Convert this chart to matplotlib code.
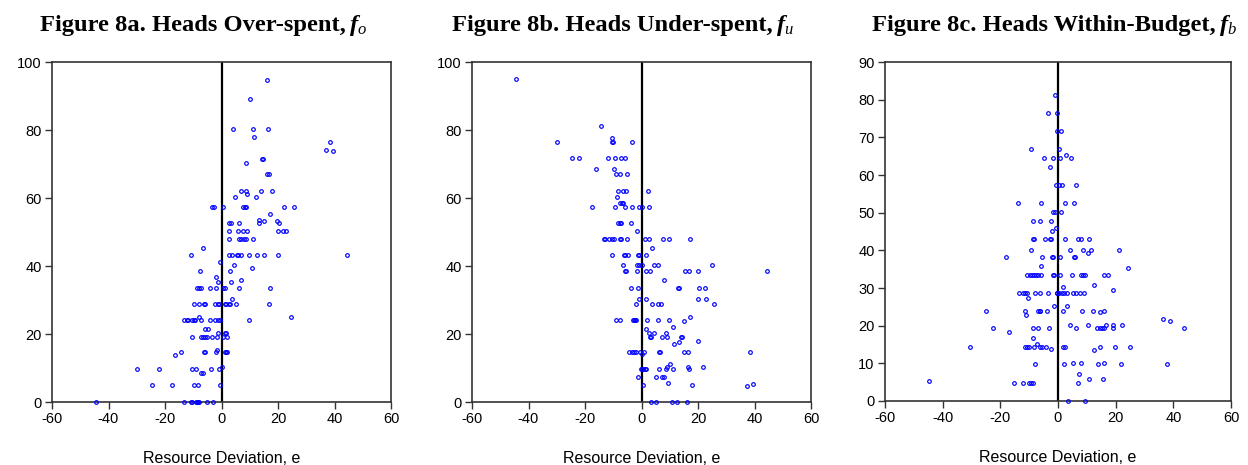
import matplotlib
matplotlib.use("Agg")
import matplotlib.pyplot as plt

plt.rcParams["axes.unicode_minus"] = False

# ---------------- data ----------------
over_x = [
    -44.6, -29.9, -22.2, -24.6, -17.5, -16.4, -14.4,
    -13.4, -10.8, -10.4, -9.1, -8.6, -8.2, -7.8, -5.3, -3.0,
    -10.5, -9.1, -9.9, -8.2, -7.1, -6.6, -3.8, -0.9, -0.6,
    -6.3, -5.8, -1.9, -1.5,
    -10.3, -7.4, -6.4, -5.8, -5.2, -3.4, -1.5, -1.1,
    -5.7, -4.7,
    -13.1, -12.3, -11.7, -10.6, -9.8, -9.5, -8.0, -7.4, -3.9, -2.2, -1.4, -0.5,
    -9.6, -8.0, -6.1, -5.8, -2.2, -1.4, -0.9,
    -8.5, -7.9, -7.2, -3.9, -2.1,
    -7.7, -1.9, -1.2, -0.5, -10.8, -6.6, -3.2, -2.6,
    0.0, 1.2, 1.7, 2.1, 0.6, 1.2, 1.7, 1.9,
    9.7, 24.7,
    1.2, 1.7, 2.5, 3.0, 3.7, 5.1, 16.7,
    0.6, 1.2, 6.1, 17.0, 3.4, 6.9, 3.0, 4.6, 10.9,
    2.5, 3.7, 5.4, 5.9, 7.0, 9.7, 12.6, 15.2, 20.0, 44.3,
    2.8, 6.1, 7.0, 7.8, 8.6, 11.2,
    2.5, 5.7, 7.6, 9.1, 19.9, 21.6, 23.0,
    2.5, 3.2, 6.1, 13.1, 13.1, 14.9, 19.7, 20.3,
    17.0, 0.6, 7.7, 8.2, 8.6, 22.3, 25.6,
    4.7, 12.2, 7.0, 8.6, 9.1, 13.9, 17.8,
    16.1, 16.8, 14.2, 14.8, 8.5,
    37.1, 39.5, 38.3,
    4.0, 11.0, 16.4, 11.5, 10.0, 16.2,
]
over_y = [
    0, 9.8, 9.8, 4.9, 4.9, 13.9, 14.6,
    0, 0, 0, 0, 0, 0, 0, 0, 0,
    9.8, 9.8, 4.9, 4.9, 8.6, 8.6, 9.8, 9.8, 4.9,
    14.6, 14.6, 14.6, 15.3,
    19.2, 19.2, 19.2, 19.2, 19.2, 19.2, 19.2, 20.2,
    21.6, 21.6,
    24.0, 24.0, 24.0, 24.0, 24.0, 24.0, 25.1, 24.0, 24.0, 24.0, 24.0, 24.0,
    28.8, 28.8, 28.8, 28.8, 28.8, 28.8, 28.8,
    33.5, 33.5, 33.5, 33.5, 33.5,
    38.4, 36.7, 35.3, 41.2, 43.1, 45.4, 57.4, 57.4,
    10.2, 14.6, 14.6, 14.6, 19.2, 20.2, 20.2, 19.2,
    24.0, 25.1,
    28.8, 28.8, 28.8, 28.8, 30.3, 28.8, 28.8,
    33.5, 33.5, 33.5, 33.5, 35.3, 36.0, 38.4, 40.2, 39.4,
    43.1, 43.1, 43.1, 43.1, 43.1, 43.1, 43.1, 43.1, 43.1, 43.1,
    47.9, 47.9, 47.9, 47.9, 47.9, 47.9,
    50.2, 50.2, 50.2, 50.2, 50.2, 50.2, 50.2,
    52.6, 52.6, 52.6, 52.5, 53.6, 53.3, 53.3, 52.6,
    55.2, 57.4, 57.4, 57.4, 57.4, 57.4, 57.4,
    60.2, 60.2, 62.1, 62.1, 61.3, 62.1, 62.1,
    67.0, 67.0, 71.6, 71.6, 70.2,
    74.0, 73.8, 76.4,
    80.2, 80.2, 80.2, 77.9, 89.2, 94.7,
]

under_x = [
    -44.3, -14.4, -29.9, -10.6, -10.6, -10.2, -3.5,
    -24.5, -22.0, -11.8, -9.5, -7.3, -5.9, -16.2, -9.8,
    -8.9, -7.7, -5.1, -8.3, -6.4, -5.6, -8.6, -7.7, -6.9, -6.4,
    -17.4, -9.5, -6.0, -3.2, -0.8, -8.2, -7.6, -7.2, -3.7, -1.7,
    -13.4, -12.8, -11.5, -10.6, -9.9, -7.6, -7.2, -5.2,
    -10.5, -6.1, -5.7, -4.8, -1.3, -0.8,
    -6.5, -1.5, -0.9, -6.0, -5.4, -1.7, -3.8, -1.4, -0.8, -2.0,
    -9.1, -7.7, -3.1, -2.6, -2.2, -1.9,
    -4.4, -3.3, -2.5, -2.0, -0.6, -1.2, -0.2,
    2.2, 0.2, 2.6, 1.4, 2.6, 7.6, 9.7, 17.1, 3.8, 1.7,
    0.1, 4.5, 5.9, 24.8, 1.7, 3.1, 15.4, 16.9, 20.1, 44.4,
    8.0, 12.8, 13.2, 20.3, 22.5, 1.7, 20.0, 23.0,
    3.8, 5.7, 6.9, 25.8, 1.9, 5.8, 9.9, 15.0, 17.1, 1.5, 11.0,
    2.6, 3.0, 3.3, 4.3, 7.1, 8.6, 9.0, 13.9, 14.5, 11.6, 13.2, 20.0,
    0.1, 0.8, 6.1, 6.4, 14.9, 16.4, 38.4,
    0.0, 0.7, 1.2, 1.7, 6.3, 8.6, 9.0, 10.2, 11.3, 16.4, 16.8, 21.6,
    5.1, 7.1, 7.8, 0.7, 9.3, 18.0, 37.2, 39.6,
    3.5, 5.0, 10.9, 12.4, 16.2,
]
under_y = [
    95.1, 81.3, 76.4, 77.6, 76.4, 76.4, 76.4,
    71.7, 71.7, 71.7, 71.7, 71.7, 71.7, 68.4, 68.4,
    67.0, 67.0, 67.0, 62.1, 62.1, 62.1, 60.2, 58.6, 58.6, 58.6,
    57.4, 57.4, 57.4, 57.4, 57.4, 52.6, 52.6, 52.6, 52.6, 50.2,
    47.9, 47.9, 47.9, 47.9, 47.9, 47.9, 47.9, 47.9,
    43.1, 43.1, 43.1, 43.1, 43.1, 43.1,
    40.2, 40.2, 40.2, 38.4, 38.4, 38.4, 33.5, 33.5, 30.3, 28.8,
    24.0, 24.0, 24.0, 24.0, 24.0, 24.0,
    14.6, 14.6, 14.6, 14.6, 14.6, 7.4, 9.8,
    62.1, 57.4, 57.4, 47.9, 47.9, 47.9, 47.9, 47.9, 45.4, 43.1,
    40.2, 40.2, 40.2, 40.2, 38.4, 38.4, 38.4, 38.4, 38.4, 38.4,
    36.0, 33.5, 33.5, 33.5, 33.5, 30.3, 30.3, 30.3,
    28.8, 28.8, 28.8, 28.8, 24.0, 24.0, 24.0, 23.7, 25.1, 21.6, 22.0,
    20.2, 19.2, 19.2, 20.2, 19.2, 20.2, 19.2, 19.2, 19.2, 17.0, 17.7, 17.9,
    14.1, 14.6, 14.6, 14.6, 14.6, 14.6, 14.6,
    9.8, 9.8, 9.8, 9.8, 9.8, 9.8, 10.2, 11.3, 9.8, 10.2, 9.8, 10.2,
    7.4, 7.4, 7.4, 4.9, 5.7, 4.9, 4.6, 5.4,
    0, 0, 0, 0, 0,
]

within_x = [
    -44.9, -30.4, -25.0, -22.6, -18.0, -16.9,
    -15.1, -12.3, -10.2, -9.4, -8.7, -13.8,
    -13.4, -12.2, -11.6, -10.8, -10.5, -11.4, -11.2,
    -10.7, -9.6, -8.9, -8.4, -7.7, -7.1, -5.9,
    -9.5, -8.7, -6.4, -8.6, -8.4, -9.2, -7.9, -6.4,
    -8.5, -6.8, -8.5, -11.3, -10.7, -10.0, -8.3, -7.2, -6.2, -5.7, -4.2, -8.1,
    -7.0, -6.4, -6.1, -5.9, -5.6, -5.8, -5.0, -4.5, -2.7, -2.5,
    -3.8, -3.5, -3.4, -3.0, -2.7, -2.4, -2.4, -2.2, -1.8, -1.9, -2.0,
    -1.7, -1.4, -1.5, -1.6, -0.9, -0.7, -1.0, -0.7, -0.5, -0.2,
    -0.2, -0.2, 1.2, 0.2, 0.8, 2.9, 4.5,
    0.5, 1.4, 6.4, 2.5, 5.5, 1.0,
    2.5, 6.9, 8.0, 10.7, 4.3, 8.5, 10.3, 11.6, 21.1,
    0.8, 5.5, 5.8, 24.3,
    0.8, 5.0, 8.0, 8.5, 9.3, 16.0, 17.5, 12.6, 19.1, 1.9,
    0.5, 1.3, 2.1, 3.0, 5.1, 6.3, 7.8, 9.0,
    3.2, 1.7, 8.4, 12.0, 14.4, 16.1,
    4.2, 6.4, 10.5, 13.4, 14.5, 15.3, 16.1, 16.6, 19.2, 19.2, 22.3,
    36.5, 39.0, 43.7,
    1.9, 2.3, 12.6, 14.4, 19.8, 25.1,
    2.0, 5.2, 8.0, 13.8, 16.0, 21.7, 37.8,
    7.4, 7.1, 10.9, 15.5, 3.6, 9.4,
]
within_y = [
    5.3, 14.4, 24.0, 19.3, 38.3, 18.4,
    4.9, 4.9, 4.9, 4.9, 4.9, 52.6,
    28.7, 28.7, 28.7, 28.7, 27.4, 24.0, 22.9,
    33.5, 33.5, 33.5, 33.5, 33.5, 33.5, 33.5,
    66.9, 47.9, 47.9, 43.1, 43.1, 40.1, 28.7, 28.7,
    19.3, 19.3, 16.8, 14.4, 14.4, 14.4, 14.4, 15.1, 14.4, 14.4, 14.4, 9.7,
    24.0, 24.0, 24.0, 52.6, 38.3, 35.9, 64.5, 43.1, 43.1, 43.1,
    24.0, 28.7, 76.5, 19.3, 62.1, 47.9, 13.8, 38.3, 38.3, 64.5, 45.2,
    33.5, 33.5, 25.1, 50.2, 50.2, 45.8, 81.2, 57.3, 28.7, 28.7,
    76.5, 71.7, 71.7, 66.9, 64.5, 65.3, 64.5,
    57.3, 57.3, 57.3, 52.6, 52.6, 50.2,
    43.1, 43.1, 43.1, 43.1, 40.2, 40.2, 39.4, 40.2, 40.2,
    38.3, 38.3, 38.3, 35.2,
    33.5, 33.5, 33.5, 33.5, 33.5, 33.5, 33.5, 30.7, 29.6, 30.2,
    28.7, 28.7, 28.7, 28.7, 28.7, 28.7, 28.7, 28.7,
    25.1, 24.0, 24.0, 24.0, 23.7, 24.0,
    20.1, 19.3, 20.1, 19.3, 19.3, 19.3, 19.3, 20.1, 20.1, 19.3, 20.1,
    21.8, 21.2, 19.3,
    14.4, 14.4, 13.5, 14.4, 14.4, 14.4,
    9.7, 10.2, 10.2, 9.7, 10.2, 9.7, 9.7,
    7.3, 4.9, 5.8, 5.8, 0, 0,
]

titles_main = ["Figure 8a. Heads Over-spent,", "Figure 8b. Heads Under-spent,",
               "Figure 8c. Heads Within-Budget,"]
titles_sub = ["o", "u", "b"]
x_label = "Resource Deviation, e"
x_ticks = [-60, -40, -20, 0, 20, 40, 60]
y_ticks_ab = [0, 20, 40, 60, 80, 100]
y_ticks_c = [0, 10, 20, 30, 40, 50, 60, 70, 80, 90]

assert len(over_x) == len(over_y)
assert len(under_x) == len(under_y)
assert len(within_x) == len(within_y)

# ---------------- layout ----------------
W, H = 1248, 465
fig = plt.figure(figsize=(W / 100, H / 100), dpi=100)
fig.patch.set_facecolor("white")

SANS = "Liberation Sans"
SERIF = "Liberation Serif"


def axes_px(l, t, r, b):
    return fig.add_axes([l / W, 1 - b / H, (r - l) / W, (b - t) / H])


boxes = [(52, 62, 391, 402), (472, 62, 811, 402), (885, 62, 1231, 401)]
series = [(over_x, over_y, y_ticks_ab), (under_x, under_y, y_ticks_ab),
          (within_x, within_y, y_ticks_c)]
title_left = [40, 452, 872]

for box, (xs, ys, yt) in zip(boxes, series):
    ax = axes_px(*box)
    ax.plot(xs, ys, linestyle="none", marker="o", ms=2.6, mfc="none",
            mec="#0000ff", mew=0.85, clip_on=False, zorder=3)
    ax.axvline(0, color="black", lw=1.6, zorder=2)
    ax.set_xlim(x_ticks[0], x_ticks[-1])
    ax.set_ylim(yt[0], yt[-1])
    ax.set_xticks(x_ticks)
    ax.set_yticks(yt)
    ax.tick_params(direction="out", length=5, width=1.0, color="#333333",
                   labelsize=10.5, pad=2.5, labelcolor="black")
    for lab in ax.get_xticklabels() + ax.get_yticklabels():
        lab.set_fontfamily(SANS)
    for sp in ax.spines.values():
        sp.set_color("#333333")
        sp.set_linewidth(1.2)
    ax.set_xlabel(x_label, fontfamily=SANS, fontsize=11.5, va="baseline")
    h = box[3] - box[1]
    ax.xaxis.set_label_coords(0.5, -(462.5 - box[3]) / h)

# titles: main bold part + bold italic f + italic subscript
fig.canvas.draw()
renderer = fig.canvas.get_renderer()
base_y = 1 - 30.5 / H
fs = 15
# fit font size to the measured width of title (a)
probe = fig.text(40 / W, base_y, titles_main[0], fontfamily=SERIF,
                 fontweight="bold", fontsize=fs, va="baseline", ha="left")
wpx = probe.get_window_extent(renderer).width
fs = fs * (346 - 40) / wpx
probe.remove()

for left, main, sub in zip(title_left, titles_main, titles_sub):
    t = fig.text(left / W, base_y, main, fontfamily=SERIF, fontweight="bold",
                 fontsize=fs, va="baseline", ha="left")
    x1 = t.get_window_extent(renderer).x1
    f = fig.text((x1 + 4) / W, base_y, "f", fontfamily=SERIF,
                 fontweight="bold", fontstyle="italic", fontsize=fs,
                 va="baseline", ha="left")
    x2 = f.get_window_extent(renderer).x1
    fig.text((x2 - 0.5) / W, base_y - 3.0 / H, sub, fontfamily=SERIF,
             fontstyle="italic", fontsize=fs * 0.68, va="baseline", ha="left")

fig.savefig("out.png", dpi=100, facecolor="white")
